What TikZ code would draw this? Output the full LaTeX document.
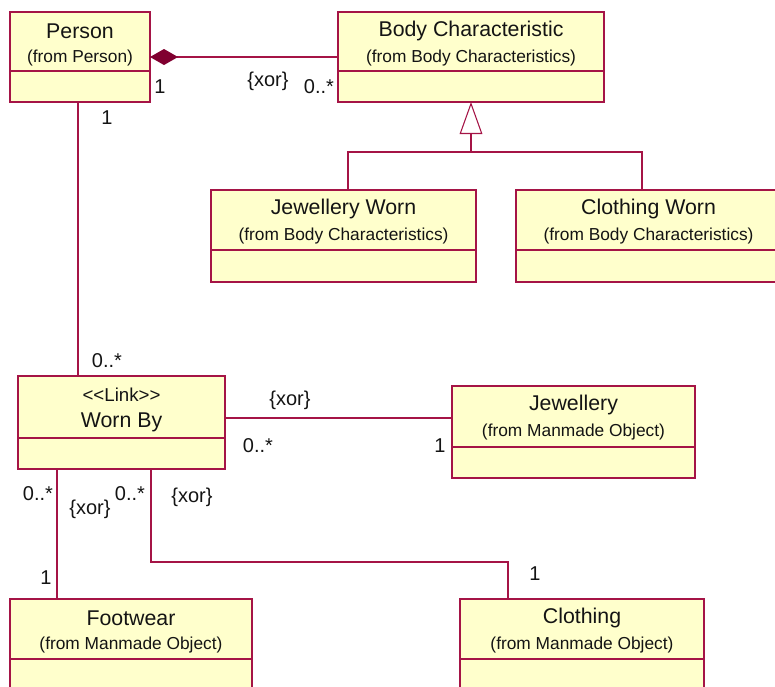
\documentclass[tikz,border=0pt]{standalone}
\usepackage{fontspec}
\setmainfont{Liberation Sans}
\usetikzlibrary{arrows.meta,calc}
\definecolor{umlline}{RGB}{165,20,70}
\definecolor{umlfill}{RGB}{255,255,204}
\definecolor{umldia}{RGB}{128,0,48}
\definecolor{umltext}{RGB}{20,20,20}
\tikzset{
  umlbox/.style={draw=umlline, fill=umlfill, line width=0.8pt, inner sep=0pt, outer sep=0pt},
  sepline/.style={draw=umlline, line width=0.8pt},
  ttl/.style={font=\fontsize{16}{18}\selectfont, text=umltext, inner sep=0pt},
  subt/.style={font=\fontsize{13}{15}\selectfont, text=umltext, inner sep=0pt},
  mult/.style={font=\fontsize{15}{17}\selectfont, text=umltext, inner sep=0pt},
  conn/.style={draw=umlline, line width=0.8pt},
}
% name, x1, y1, x2, y2, separator y, title, subtitle
\newcommand\umlclass[8]{%
  \pgfmathsetmacro\umlw{(#4-#2)*0.75}%
  \pgfmathsetmacro\umlh{(#5-#3)*0.75}%
  \node[umlbox, anchor=north west, minimum width=\umlw pt, minimum height=\umlh pt] (#1) at (#2,#3) {};
  \draw[sepline] (#2,#6) -- (#4,#6);
  \node[ttl] (#1-t) at ($(#1.north)+(0,19)$) {#7};
  \node[subt] (#1-s) at ($(#1.north)+(0,46)$) {#8};
}
\begin{document}
\begin{tikzpicture}[x=0.75pt, y=-0.75pt]
\useasboundingbox (0,0) rectangle (775,686);
\clip (0,0) rectangle (775,686);

\umlclass{person}{10}{12}{150}{102}{71}{Person}{(from Person)}
\umlclass{body}{338}{12}{604}{102}{71}{Body Characteristic}{(from Body Characteristics)}
\umlclass{jw}{211}{190}{476}{282}{250}{Jewellery Worn}{(from Body Characteristics)}
\umlclass{cw}{516}{190}{781}{282}{250}{Clothing Worn}{(from Body Characteristics)}
\umlclass{wornby}{18}{376}{225}{469}{438}{\fontsize{14}{16}\selectfont {<}{<}Link{>}{>}}{\fontsize{16}{18}\selectfont Worn By}
\umlclass{jewel}{452}{386}{695}{478}{447}{Jewellery}{(from Manmade Object)}
\umlclass{foot}{10}{599}{252}{695}{659}{Footwear}{(from Manmade Object)}
\umlclass{cloth}{460}{599}{704}{695}{659}{Clothing}{(from Manmade Object)}

% composition Person -- Body Characteristic
\draw[conn, {Diamond[length=21pt,width=12pt,color=umldia]}-] (person.east) -- (body.west);

% generalization
\coordinate (gen) at (471,152);
\draw[conn, -{Triangle[open,length=24pt,width=17pt,fill=white]}] (gen) -- (body.south);
\draw[conn] ($(jw.north)+(4.5,0)$) |- (gen) -| ($(cw.north)+(-6.5,0)$);

% Person -- Worn By
\coordinate (pv) at (78,0);
\draw[conn] (person.south -| pv) -- (wornby.north -| pv);

% Worn By -- Jewellery
\coordinate (jy) at (0,418);
\draw[conn] (wornby.east |- jy) -- (jewel.west |- jy);

% Worn By -- Footwear
\coordinate (fx) at (57,0);
\draw[conn] (wornby.south -| fx) -- (foot.north -| fx);

% Worn By -- Clothing
\coordinate (cb1) at (151,562);
\coordinate (cb2) at (508,562);
\draw[conn] (wornby.south -| cb1) -- (cb1) -- (cb2) -- (cloth.north -| cb2);

% labels
\node[mult] (m1) at (160,87) {1};
\node[mult] (x1) at (268,81) {\{xor\}};
\node[mult] (m2) at (319,87) {0..*};
\node[mult] (m3) at (107,118) {1};
\node[mult] (m4) at (107,361) {0..*};
\node[mult] (x2) at (290,400) {\{xor\}};
\node[mult] (m5) at (258,446) {0..*};
\node[mult] (m6) at (440,446) {1};
\node[mult] (m7) at (38,494) {0..*};
\node[mult] (x3) at (90,509) {\{xor\}};
\node[mult] (m8) at (130,494) {0..*};
\node[mult] (x4) at (192,497) {\{xor\}};
\node[mult] (m9) at (46,578) {1};
\node[mult] (m10) at (535,574) {1};
\end{tikzpicture}
\end{document}
